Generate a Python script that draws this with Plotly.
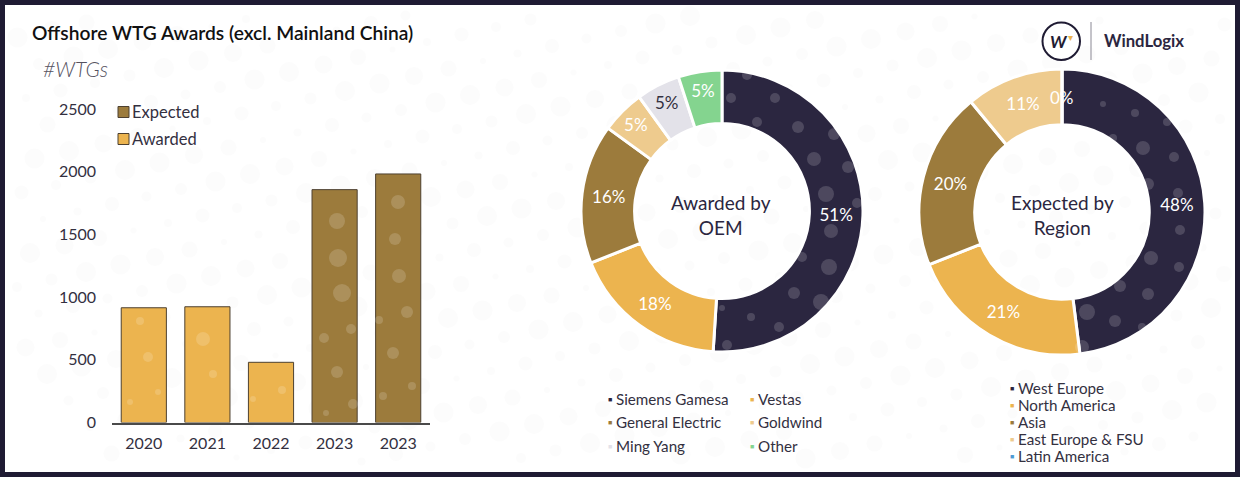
import plotly.graph_objects as go

W = 1240
H = 477

# Bars
tick_labels = ["2020", "2021", "2022", "2023", "2023"]
awarded_pos = [0, 1, 2]
awarded = [915, 923, 480]
expected_pos = [3, 4]
expected = [1857, 1982]

# Donuts
oem_labels = ["Siemens Gamesa", "Vestas", "General Electric", "Goldwind", "Ming Yang", "Other"]
oem_values = [51, 18, 16, 5, 5, 5]
oem_colors = ["#2b2640", "#ecb44f", "#9c7b3c", "#eecb8e", "#e3e2e9", "#84d48f"]
oem_text_colors = ["white", "white", "white", "white", "#33303f", "white"]

region_labels = ["West Europe", "North America", "Asia", "East Europe & FSU", "Latin America"]
region_values = [48, 21, 20, 11, 0]
region_colors = ["#2b2640", "#ecb44f", "#9c7b3c", "#eecb8e", "#4e9bd4"]

DARK = "#1f1b33"
TEXT = "#33303f"
FONT = "Lato"

# watermark dots of the slide background, pixel x, y, r
dots_on_marks = [
    (747, 75, 5), (731, 98, 5), (775, 98, 5), (757, 122, 5), (798, 127, 6), (814, 159, 7), (834, 134, 6),
    (848, 167, 6), (826, 194, 8), (857, 203, 5), (831, 231, 7), (829, 267, 8), (802, 257, 5), (794, 293, 6),
    (821, 302, 8), (751, 317, 4), (779, 327, 5), (722, 308, 3), (727, 345, 5),
    (1103, 104, 3), (1135, 113, 4), (1167, 122, 4), (1113, 138, 4), (1143, 148, 7), (1174, 157, 5),
    (1148, 184, 6), (1178, 193, 5), (1180, 230, 5), (1151, 258, 7), (1179, 267, 5), (1120, 286, 6),
    (1148, 294, 6), (1087, 312, 8), (1115, 321, 6), (1142, 327, 4), (1082, 347, 7),
    (337, 221, 8), (338, 258, 9), (342, 293, 9), (398, 202, 7), (395, 239, 6), (399, 276, 7),
    (337, 372, 6), (324, 338, 5), (351, 329, 5), (326, 413, 3), (353, 404, 5), (393, 353, 6),
    (407, 312, 6), (379, 320, 4), (412, 386, 4), (383, 396, 4),
    (203, 339, 7), (148, 357, 5), (140, 321, 4), (213, 374, 4), (158, 392, 3), (282, 390, 4),
    (130, 402, 3), (253, 399, 3),
]
paper_dot_sizes = [10, 7, 9, 5, 8, 6, 3, 10, 4]


def px(x):
    return x / W


def py(y):
    return 1 - y / H


fig = go.Figure()

fig.add_trace(go.Bar(x=awarded_pos, y=awarded, name="Awarded", width=0.71,
                     marker=dict(color="#ecb44f", line=dict(color="#4d4030", width=1))))
fig.add_trace(go.Bar(x=expected_pos, y=expected, name="Expected", width=0.71,
                     marker=dict(color="#9c7b3c", line=dict(color="#4d4030", width=1))))

fig.add_trace(go.Pie(labels=oem_labels, values=oem_values, hole=0.62, sort=False,
                     direction="clockwise", rotation=0,
                     domain=dict(x=[px(581), px(863)], y=[py(352), py(70)]),
                     marker=dict(colors=oem_colors, line=dict(color="white", width=3)),
                     textinfo="percent", texttemplate="%{value}%", textposition="inside",
                     insidetextorientation="horizontal",
                     textfont=dict(color=oem_text_colors, size=17, family=FONT)))
fig.add_trace(go.Pie(labels=region_labels, values=region_values, hole=0.61, sort=False,
                     direction="clockwise", rotation=0,
                     domain=dict(x=[px(919), px(1205)], y=[py(355), py(69)]),
                     marker=dict(colors=region_colors, line=dict(color="white", width=3)),
                     textinfo="percent", texttemplate="%{value}%", textposition="inside",
                     insidetextorientation="horizontal",
                     textfont=dict(color="white", size=17, family=FONT)))


def note(x, y, text, size=15.2, color=TEXT, anchor="left", **kw):
    fig.add_annotation(xref="paper", yref="paper", x=px(x), y=py(y), text=text, showarrow=False,
                       xanchor=anchor, yanchor="middle", align=anchor,
                       font=dict(size=size, color=color, family=FONT, **kw))


def legend_item(x, y, color, label, sq=7):
    note(x, y, f'<span style="color:{color}">■</span>', size=sq)
    note(x + 8, y, label)


def dot(x, y, r, fill, layer):
    fig.add_shape(type="circle", xref="paper", yref="paper", x0=px(x - r), x1=px(x + r),
                  y0=py(y + r), y1=py(y - r), fillcolor=fill, line=dict(width=0), layer=layer)


def swatch(y, color):
    fig.add_shape(type="rect", xref="paper", yref="paper", x0=px(118), x1=px(129), y0=py(y + 5.5), y1=py(y - 5.5),
                  fillcolor=color, line=dict(color="#4d4030", width=1))


# white panel, first so the rest stays on top
fig.add_shape(type="rect", xref="paper", yref="paper", x0=px(5), x1=px(1235), y0=py(472), y1=py(5),
              fillcolor="white", line=dict(width=0), layer="below")

# faint tilted dot pattern on the white panel
for i in range(-10, 45):
    for j in range(-2, 22):
        x = 220 + i * 34.5 + (j - 1) * 21.5
        y = 87 - i * 7.5 + (j - 1) * 26.5
        if 5 + 10 < x < 1235 - 10 and 5 + 10 < y < 472 - 10:
            dot(x, y, paper_dot_sizes[(i * 2 + j * 5) % len(paper_dot_sizes)], "rgba(120,120,140,0.022)", "below")

for x, y, r in dots_on_marks:
    dot(x, y, r, "rgba(255,255,255,0.16)", "above")

note(30, 32, "Offshore WTG Awards (excl. Mainland China)", size=19.2, color="#111111", weight=600)
note(41, 68, "<i>#WTGs</i>", size=21, color="#55525f", weight=300)

swatch(112, "#9c7b3c")
note(129.5, 112, "Expected", size=16.5)
swatch(139, "#ecb44f")
note(129.5, 139, "Awarded", size=16.5)

note(721, 215, "Awarded by<br>OEM", size=19, color="#2b2640", anchor="center")
note(1062, 215, "Expected by<br>Region", size=19, color="#2b2640", anchor="center")
# zero slice gets no label from the pie itself
note(1062, 97, f"{region_values[4]}%", size=17, color="white", anchor="center")

# OEM legend, two columns
oem_x = [606, 748, 606, 748, 606, 748]
oem_y = [399, 399, 422, 422, 446, 446]
for x, y, c, lab in zip(oem_x, oem_y, oem_colors, oem_labels):
    legend_item(x, y, c, lab)

# region legend, one column
region_y = [388, 405, 422, 439, 456]
for y, c, lab in zip(region_y, region_colors, region_labels):
    legend_item(1008, y, c, lab)

# logo
fig.add_shape(type="circle", xref="paper", yref="paper", x0=px(1042.5), x1=px(1080), y0=py(60), y1=py(22.5),
              line=dict(color=DARK, width=2), fillcolor="white")
fig.add_shape(type="line", xref="paper", yref="paper", x0=px(1091), x1=px(1091), y0=py(22), y1=py(60),
              line=dict(color="#8a8894", width=1))
note(1059, 42, "<b><i>W</i></b>", size=17, color=DARK, anchor="center")
note(1070, 37, "▾", size=10, color="#ecb44f", anchor="center")
note(1102, 41, "<b>WindLogix</b>", size=16.7, color="#2b2640")

fig.update_layout(
    width=W, height=H, margin=dict(l=0, r=0, t=0, b=0),
    paper_bgcolor=DARK, plot_bgcolor="rgba(0,0,0,0)",
    barmode="overlay", showlegend=False,
    font=dict(family=FONT, color=TEXT, size=16),
    xaxis=dict(domain=[px(112), px(430)], range=[-0.5, 4.5], tickmode="array", automargin=False,
               tickvals=list(range(5)), ticktext=tick_labels, showgrid=False, zeroline=False,
               showline=True, linecolor="#4a4a4a", linewidth=1.5, ticks="", tickfont=dict(size=16, color=TEXT),
               ticklabelstandoff=6),
    yaxis=dict(domain=[py(422.5), py(109)], range=[0, 2500], tickvals=[0, 500, 1000, 1500, 2000, 2500],
               automargin=False, showgrid=False, zeroline=False, showline=False, ticks="",
               tickfont=dict(size=16, color=TEXT), ticklabelstandoff=15),
)

fig.write_html("out.html", config=dict(displayModeBar=False), post_script="document.body.style.margin='0';")
